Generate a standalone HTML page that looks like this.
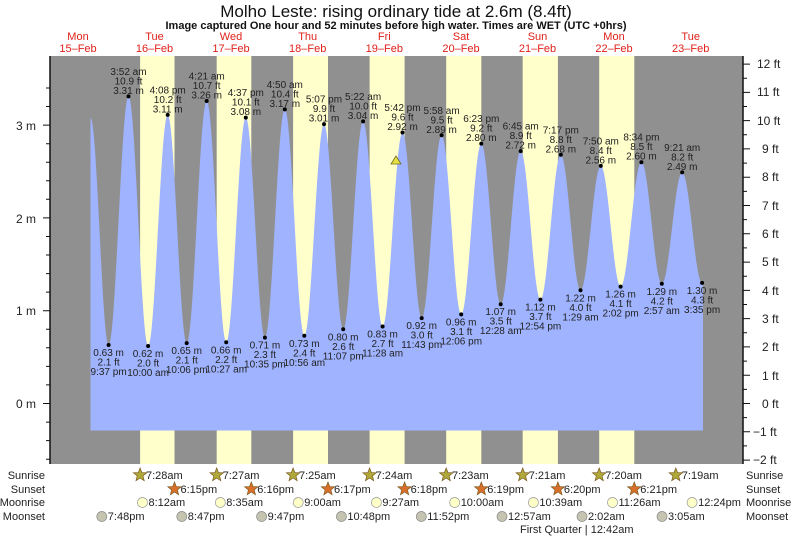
<!DOCTYPE html>
<html><head><meta charset="utf-8"><style>
html,body{margin:0;padding:0;background:#fff;}
svg{display:block;font-family:"Liberation Sans",sans-serif;}
.l text{font-size:10px;fill:#222;text-anchor:middle;}
.d{font-size:11px;fill:#e0201a;text-anchor:middle;}
.r{font-size:11px;fill:#222;}
</style></head><body>
<svg id="s" width="793" height="537" viewBox="0 0 793 537" xmlns="http://www.w3.org/2000/svg">
<text x="396" y="17" font-size="17" text-anchor="middle" fill="#111">Molho Leste: rising  ordinary tide at 2.6m (8.4ft)</text>
<text x="396" y="29" font-size="11" font-weight="bold" text-anchor="middle" fill="#111">Image captured One hour and 52 minutes before high water. Times are WET (UTC +0hrs)</text>
<g class="d">
<text x="78" y="40">Mon</text><text x="78" y="52">15–Feb</text>
<text x="154.5" y="40">Tue</text><text x="154.5" y="52">16–Feb</text>
<text x="231" y="40">Wed</text><text x="231" y="52">17–Feb</text>
<text x="307.7" y="40">Thu</text><text x="307.7" y="52">18–Feb</text>
<text x="384.3" y="40">Fri</text><text x="384.3" y="52">19–Feb</text>
<text x="461" y="40">Sat</text><text x="461" y="52">20–Feb</text>
<text x="537.5" y="40">Sun</text><text x="537.5" y="52">21–Feb</text>
<text x="614" y="40">Mon</text><text x="614" y="52">22–Feb</text>
<text x="690.7" y="40">Tue</text><text x="690.7" y="52">23–Feb</text>
</g>
<rect x="50" y="56" width="693" height="408" fill="#909090"/>
<g fill="#ffffcc">
<rect x="140.1" y="56" width="34.4" height="408"/>
<rect x="216.7" y="56" width="34.6" height="408"/>
<rect x="293.1" y="56" width="34.9" height="408"/>
<rect x="369.6" y="56" width="35" height="408"/>
<rect x="446.2" y="56" width="35.1" height="408"/>
<rect x="522.7" y="56" width="35.2" height="408"/>
<rect x="599.2" y="56" width="35.1" height="408"/>
</g>
<path id="tide" fill="#9fb3ff" d=""/>
<path d="M50,56V464M743,56V464" stroke="#111" stroke-width="1.5"/>
<g id="ticks" stroke="#111" stroke-width="1"></g>
<g font-size="12" fill="#222" text-anchor="end">
<text x="36" y="130">3 m</text><text x="36" y="223">2 m</text><text x="36" y="315">1 m</text><text x="36" y="408">0 m</text>
</g>
<g font-size="12" fill="#222">
<text x="757" y="68">12 ft</text><text x="757" y="96">11 ft</text><text x="757" y="125">10 ft</text><text x="762" y="153">9 ft</text><text x="762" y="181">8 ft</text><text x="762" y="210">7 ft</text><text x="762" y="238">6 ft</text><text x="762" y="266">5 ft</text><text x="762" y="295">4 ft</text><text x="762" y="323">3 ft</text><text x="762" y="351">2 ft</text><text x="762" y="380">1 ft</text><text x="762" y="408">0 ft</text><text x="753" y="436">−1 ft</text><text x="753" y="464">−2 ft</text>
</g>
<g fill="#000" id="dots"></g>
<g class="l">
<text x="108.6" y="356">0.63 m</text><text x="108.6" y="365.5">2.1 ft</text><text x="108.6" y="375">9:37 pm</text>
<text x="128.5" y="74.8">3:52 am</text><text x="128.5" y="84.3">10.9 ft</text><text x="128.5" y="93.8">3.31 m</text>
<text x="148.1" y="357">0.62 m</text><text x="148.1" y="366.5">2.0 ft</text><text x="148.1" y="376">10:00 am</text>
<text x="167.7" y="93.4">4:08 pm</text><text x="167.7" y="102.9">10.2 ft</text><text x="167.7" y="112.4">3.11 m</text>
<text x="186.7" y="354.2">0.65 m</text><text x="186.7" y="363.7">2.1 ft</text><text x="186.7" y="373.2">10:06 pm</text>
<text x="206.7" y="79.5">4:21 am</text><text x="206.7" y="89">10.7 ft</text><text x="206.7" y="98.5">3.26 m</text>
<text x="226.2" y="353.3">0.66 m</text><text x="226.2" y="362.8">2.2 ft</text><text x="226.2" y="372.3">10:27 am</text>
<text x="245.8" y="96.2">4:37 pm</text><text x="245.8" y="105.7">10.1 ft</text><text x="245.8" y="115.2">3.08 m</text>
<text x="264.9" y="348.6">0.71 m</text><text x="264.9" y="358.1">2.3 ft</text><text x="264.9" y="367.6">10:35 pm</text>
<text x="284.8" y="87.8">4:50 am</text><text x="284.8" y="97.3">10.4 ft</text><text x="284.8" y="106.8">3.17 m</text>
<text x="304.3" y="346.8">0.73 m</text><text x="304.3" y="356.3">2.4 ft</text><text x="304.3" y="365.8">10:56 am</text>
<text x="324" y="102.7">5:07 pm</text><text x="324" y="112.2">9.9 ft</text><text x="324" y="121.7">3.01 m</text>
<text x="343.2" y="340.3">0.80 m</text><text x="343.2" y="349.8">2.6 ft</text><text x="343.2" y="359.3">11:07 pm</text>
<text x="363.1" y="99.9">5:22 am</text><text x="363.1" y="109.4">10.0 ft</text><text x="363.1" y="118.9">3.04 m</text>
<text x="382.6" y="337.5">0.83 m</text><text x="382.6" y="347">2.7 ft</text><text x="382.6" y="356.5">11:28 am</text>
<text x="402.5" y="111">5:42 pm</text><text x="402.5" y="120.5">9.6 ft</text><text x="402.5" y="130">2.92 m</text>
<text x="421.7" y="329.1">0.92 m</text><text x="421.7" y="338.6">3.0 ft</text><text x="421.7" y="348.1">11:43 pm</text>
<text x="441.6" y="113.8">5:58 am</text><text x="441.6" y="123.3">9.5 ft</text><text x="441.6" y="132.8">2.89 m</text>
<text x="461.2" y="325.4">0.96 m</text><text x="461.2" y="334.9">3.1 ft</text><text x="461.2" y="344.4">12:06 pm</text>
<text x="481.3" y="122.2">6:23 pm</text><text x="481.3" y="131.7">9.2 ft</text><text x="481.3" y="141.2">2.80 m</text>
<text x="500.7" y="315.2">1.07 m</text><text x="500.7" y="324.7">3.5 ft</text><text x="500.7" y="334.2">12:28 am</text>
<text x="520.7" y="129.6">6:45 am</text><text x="520.7" y="139.1">8.9 ft</text><text x="520.7" y="148.6">2.72 m</text>
<text x="540.4" y="310.6">1.12 m</text><text x="540.4" y="320.1">3.7 ft</text><text x="540.4" y="329.6">12:54 pm</text>
<text x="560.8" y="133.3">7:17 pm</text><text x="560.8" y="142.8">8.8 ft</text><text x="560.8" y="152.3">2.68 m</text>
<text x="580.5" y="301.3">1.22 m</text><text x="580.5" y="310.8">4.0 ft</text><text x="580.5" y="320.3">1:29 am</text>
<text x="600.8" y="144.4">7:50 am</text><text x="600.8" y="153.9">8.4 ft</text><text x="600.8" y="163.4">2.56 m</text>
<text x="620.6" y="297.6">1.26 m</text><text x="620.6" y="307.1">4.1 ft</text><text x="620.6" y="316.6">2:02 pm</text>
<text x="641.4" y="140.7">8:34 pm</text><text x="641.4" y="150.2">8.5 ft</text><text x="641.4" y="159.7">2.60 m</text>
<text x="661.8" y="294.8">1.29 m</text><text x="661.8" y="304.3">4.2 ft</text><text x="661.8" y="313.8">2:57 am</text>
<text x="682.2" y="150.9">9:21 am</text><text x="682.2" y="160.4">8.2 ft</text><text x="682.2" y="169.9">2.49 m</text>
<text x="702.1" y="293.9">1.30 m</text><text x="702.1" y="303.4">4.3 ft</text><text x="702.1" y="312.9">3:35 pm</text>
</g>
<polygon points="396,156 401,164 391,164" fill="#e8e040" stroke="#6a6a20" stroke-width="0.8"/>
<g class="r" text-anchor="end">
<text x="45" y="479">Sunrise</text><text x="45" y="493">Sunset</text><text x="45" y="506">Moonrise</text><text x="45" y="520">Moonset</text>
</g>
<g class="r">
<text x="746" y="479">Sunrise</text><text x="746" y="493">Sunset</text><text x="746" y="506">Moonrise</text><text x="746" y="520">Moonset</text>
</g>
<g id="icons"></g>
<g class="r" font-size="10.5">
<text x="146" y="479">7:28am</text><text x="222.7" y="479">7:27am</text><text x="299" y="479">7:25am</text><text x="375.6" y="479">7:24am</text><text x="452" y="479">7:23am</text><text x="528.7" y="479">7:21am</text><text x="605.2" y="479">7:20am</text><text x="681.8" y="479">7:19am</text>
<text x="180.5" y="493">6:15pm</text><text x="257.3" y="493">6:16pm</text><text x="334" y="493">6:17pm</text><text x="410.6" y="493">6:18pm</text><text x="487.3" y="493">6:19pm</text><text x="563.9" y="493">6:20pm</text><text x="640.3" y="493">6:21pm</text>
<text x="148.5" y="506">8:12am</text><text x="226.3" y="506">8:35am</text><text x="304.2" y="506">9:00am</text><text x="382.4" y="506">9:27am</text><text x="460.7" y="506">10:00am</text><text x="539.4" y="506">10:39am</text><text x="618.5" y="506">11:26am</text><text x="698.1" y="506">12:24pm</text>
<text x="107.8" y="520">7:48pm</text><text x="187.8" y="520">8:47pm</text><text x="267.6" y="520">9:47pm</text><text x="347.4" y="520">10:48pm</text><text x="427.3" y="520">11:52pm</text><text x="508" y="520">12:57am</text><text x="588" y="520">2:02am</text><text x="668" y="520">3:05am</text>
<text x="520" y="533">First Quarter | 12:42am</text>
</g>
</svg>
<script>
var E=[[90.5,3.08],[108.6,.63],[128.5,3.31],[148.1,.62],[167.7,3.11],[186.7,.65],[206.7,3.26],[226.2,.66],[245.8,3.08],[264.9,.71],[284.8,3.17],[304.3,.73],[324,3.01],[343.2,.80],[363.1,3.04],[382.6,.83],[402.5,2.92],[421.7,.92],[441.6,2.89],[461.2,.96],[481.3,2.80],[500.7,1.07],[520.7,2.72],[540.4,1.12],[560.8,2.68],[580.5,1.22],[600.8,2.56],[620.6,1.26],[641.4,2.60],[661.8,1.29],[682.2,2.49],[702.1,1.30]];
function Y(m){return 403.5-92.8*m;}
var d="M90.5,430.5L90.5,"+Y(E[0][1]).toFixed(1);
for(var i=0;i<E.length-1;i++){var a=E[i],b=E[i+1];for(var x=a[0]+0.5;x<=b[0];x+=0.5){var t=(x-a[0])/(b[0]-a[0]);var f=(1-Math.cos(Math.PI*t))/2;d+="L"+x.toFixed(1)+","+Y(a[1]+(b[1]-a[1])*f).toFixed(1);}}
d+="L703,"+Y(1.3).toFixed(1)+"L703,430.5Z";
document.getElementById("tide").setAttribute("d",d);
var ns="http://www.w3.org/2000/svg";
function el(p,n,at){var e=document.createElementNS(ns,n);for(var k in at)e.setAttribute(k,at[k]);p.appendChild(e);return e;}
var dots=document.getElementById("dots");
for(i=1;i<E.length;i++)el(dots,"circle",{cx:E[i][0],cy:Y(E[i][1]),r:2});
var tk=document.getElementById("ticks");var s="";
for(var m=-0.6;m<=3.45;m+=0.2){var y=Y(m);var maj=Math.abs(m-Math.round(m))<0.01;s+="M"+(maj?43:46)+","+y.toFixed(1)+"H50";}
for(var ft=-2;ft<=12.01;ft+=0.5){var y2=Y(ft*0.3048);var mj=Math.abs(ft-Math.round(ft))<0.01;s+="M743,"+y2.toFixed(1)+"H"+(mj?750:747);}
el(tk,"path",{d:s});
var ic=document.getElementById("icons");
function star(cx,cy,fill){var p="";for(var k=0;k<10;k++){var r=k%2?3:7;var a=-Math.PI/2+k*Math.PI/5;p+=(cx+r*Math.cos(a)).toFixed(1)+","+(cy+r*Math.sin(a)).toFixed(1)+" ";}el(ic,"polygon",{points:p,fill:fill,stroke:"#7a5a20","stroke-width":0.7});}
[140.1,216.7,293.1,369.6,446.2,522.7,599.2,675.8].forEach(function(x){star(x,475,"#b0a838");});
[174.5,251.3,328,404.6,481.3,557.9,634.3].forEach(function(x){star(x,489,"#d9702a");});
[142.4,220.3,298.2,376.4,454.7,533.4,612.5,692.1].forEach(function(x){el(ic,"circle",{cx:x,cy:502.5,r:5,fill:"#ffffc8",stroke:"#999","stroke-width":0.7});});
[101.8,181.8,261.6,341.4,421.3,502,582,662].forEach(function(x){el(ic,"circle",{cx:x,cy:516.5,r:5,fill:"#c4c4b0",stroke:"#888","stroke-width":0.7});});
</script>
</body></html>
